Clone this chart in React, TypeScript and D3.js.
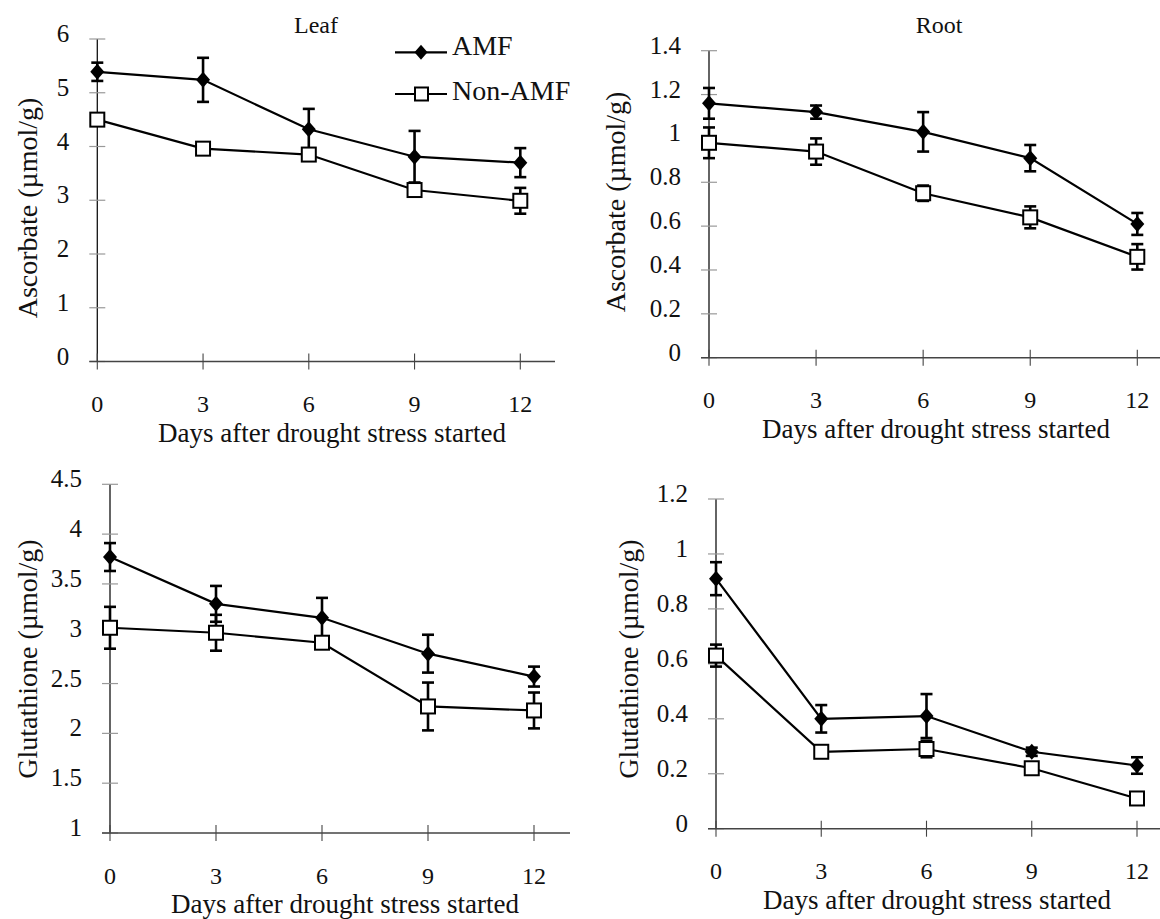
import React from "react";
import * as d3 from "d3";

// ---------- data ----------
const days = [0, 3, 6, 9, 12];
const seriesNames = ["AMF", "Non-AMF"];

const leafAscAMF = [5.39, 5.24, 4.32, 3.81, 3.7];
const leafAscAMFErr = [0.17, 0.41, 0.38, 0.48, 0.27];
const leafAscNon = [4.5, 3.96, 3.85, 3.19, 2.99];
const leafAscNonErr = [0.1, 0.05, 0.05, 0.05, 0.24];

const rootAscAMF = [1.16, 1.12, 1.03, 0.91, 0.61];
const rootAscAMFErr = [0.07, 0.03, 0.09, 0.06, 0.05];
const rootAscNon = [0.98, 0.94, 0.75, 0.64, 0.46];
const rootAscNonErr = [0.07, 0.06, 0.035, 0.05, 0.058];

const leafGshAMF = [3.77, 3.3, 3.16, 2.8, 2.57];
const leafGshAMFErr = [0.14, 0.18, 0.2, 0.19, 0.1];
const leafGshNon = [3.06, 3.01, 2.91, 2.27, 2.23];
const leafGshNonErr = [0.21, 0.18, 0.05, 0.24, 0.18];

const rootGshAMF = [0.91, 0.4, 0.41, 0.28, 0.23];
const rootGshAMFErr = [0.06, 0.05, 0.08, 0.015, 0.03];
const rootGshNon = [0.63, 0.28, 0.29, 0.22, 0.11];
const rootGshNonErr = [0.04, 0.01, 0.03, 0.01, 0.01];

const leafAscTicks = ["0", "1", "2", "3", "4", "5", "6"];
const rootAscTicks = ["0", "0.2", "0.4", "0.6", "0.8", "1", "1.2", "1.4"];
const leafGshTicks = ["1", "1.5", "2", "2.5", "3", "3.5", "4", "4.5"];
const rootGshTicks = ["0", "0.2", "0.4", "0.6", "0.8", "1", "1.2"];

const xTitle = "Days after drought stress started";
const ascTitle = "Ascorbate (µmol/g)";
const gshTitle = "Glutathione (µmol/g)";

// ---------- layout ----------
const FONT = '"Liberation Serif", "DejaVu Serif", serif';

type PanelCfg = {
  x0: number; x1: number; yb: number; yt: number;
  ticks: string[]; yTitle: string; yTitleX: number; yTitleY: number;
  xTitleX: number; axisEnd: number; title?: string; titleX?: number;
  amf: number[]; amfErr: number[]; non: number[]; nonErr: number[];
};

const panels: PanelCfg[] = [
  { x0: 97.3, x1: 520.3, yb: 361.5, yt: 39, ticks: leafAscTicks, yTitle: ascTitle,
    yTitleX: 27, yTitleY: 208, xTitleX: 332, axisEnd: 555, title: "Leaf", titleX: 316,
    amf: leafAscAMF, amfErr: leafAscAMFErr, non: leafAscNon, nonErr: leafAscNonErr },
  { x0: 709, x1: 1137.3, yb: 357.7, yt: 50.7, ticks: rootAscTicks, yTitle: ascTitle,
    yTitleX: 615, yTitleY: 202, xTitleX: 936, axisEnd: 1172, title: "Root", titleX: 939,
    amf: rootAscAMF, amfErr: rootAscAMFErr, non: rootAscNon, nonErr: rootAscNonErr },
  { x0: 110, x1: 534, yb: 833, yt: 484.3, ticks: leafGshTicks, yTitle: gshTitle,
    yTitleX: 27, yTitleY: 659, xTitleX: 345, axisEnd: 570,
    amf: leafGshAMF, amfErr: leafGshAMFErr, non: leafGshNon, nonErr: leafGshNonErr },
  { x0: 716, x1: 1137, yb: 828.7, yt: 499, ticks: rootGshTicks, yTitle: gshTitle,
    yTitleX: 628, yTitleY: 659, xTitleX: 937, axisEnd: 1172,
    amf: rootGshAMF, amfErr: rootGshAMFErr, non: rootGshNon, nonErr: rootGshNonErr },
];

const diamond = (w: number, h: number) =>
  `M0,${-h / 2}L${w / 2},0L0,${h / 2}L${-w / 2},0Z`;

const txt = (size: number) => ({ fontFamily: FONT, fontSize: size, fill: "#111" });

function Panel({ p }: { p: PanelCfg }) {
  const tv = p.ticks.map(Number);
  const x = d3.scaleLinear().domain([0, 12]).range([p.x0, p.x1]);
  const y = d3.scaleLinear().domain([tv[0], tv[tv.length - 1]]).range([p.yb, p.yt]);
  const line = d3.line<number>().x((_, i) => x(days[i])).y((v) => y(v));
  const err = (vals: number[], errs: number[], key: string) =>
    vals.map((v, i) => {
      const cx = x(days[i]);
      const top = y(v + errs[i]);
      const bot = y(v - errs[i]);
      return (
        <g key={key + i} stroke="#000" strokeWidth={2.6}>
          <line x1={cx} x2={cx} y1={top} y2={bot} />
          <line x1={cx - 6} x2={cx + 6} y1={top} y2={top} />
          <line x1={cx - 6} x2={cx + 6} y1={bot} y2={bot} />
        </g>
      );
    });
  return (
    <g>
      {/* y axis */}
      <line x1={p.x0} x2={p.x0} y1={p.yt} y2={p.yb} stroke="#111" strokeWidth={1.3} />
      {tv.map((t, i) => (
        <g key={"yt" + i}>
          <line x1={p.x0 - 8} x2={p.x0 + 8} y1={y(t)} y2={y(t)} stroke="#999" strokeWidth={1.2} />
          <text x={p.x0 - 28} y={y(t) + 3} textAnchor="end" style={txt(25)}>
            {p.ticks[i]}
          </text>
        </g>
      ))}
      {/* x axis */}
      <line x1={p.x0 - 8} x2={p.axisEnd} y1={p.yb} y2={p.yb} stroke="#444" strokeWidth={1.4} />
      {days.map((d) => (
        <g key={"xt" + d}>
          <line x1={x(d)} x2={x(d)} y1={p.yb - 8} y2={p.yb + 8} stroke="#444" strokeWidth={1.1} />
          <text x={x(d)} y={p.yb + 50.5} textAnchor="middle" style={txt(24)}>
            {d}
          </text>
        </g>
      ))}
      <text x={p.xTitleX} y={p.yb + 80} textAnchor="middle" style={txt(27)}>
        {xTitle}
      </text>
      <text
        transform={`translate(${p.yTitleX},${p.yTitleY}) rotate(-90)`}
        textAnchor="middle"
        dominantBaseline="central"
        style={txt(28)}
      >
        {p.yTitle}
      </text>
      {p.title && (
        <text x={p.titleX} y={33} textAnchor="middle" style={txt(24)}>
          {p.title}
        </text>
      )}
      {/* series */}
      <path d={line(p.amf) || ""} fill="none" stroke="#000" strokeWidth={2.2} />
      <path d={line(p.non) || ""} fill="none" stroke="#000" strokeWidth={2.2} />
      {err(p.amf, p.amfErr, "ea")}
      {err(p.non, p.nonErr, "en")}
      {p.amf.map((v, i) => (
        <path key={"ma" + i} d={diamond(14, 16)} transform={`translate(${x(days[i])},${y(v)})`} fill="#000" />
      ))}
      {p.non.map((v, i) => (
        <rect key={"mn" + i} x={x(days[i]) - 7} y={y(v) - 7} width={14} height={14}
          fill="#fff" stroke="#000" strokeWidth={2} />
      ))}
    </g>
  );
}

function Legend() {
  const rows = [52.3, 94];
  return (
    <g>
      {seriesNames.map((name, i) => (
        <g key={name}>
          <line x1={395} x2={447} y1={rows[i]} y2={rows[i]} stroke="#000" strokeWidth={2.2} />
          {i === 0 ? (
            <path d={diamond(13, 15)} transform={`translate(421,${rows[i]})`} fill="#000" />
          ) : (
            <rect x={415} y={rows[i] - 6.5} width={13} height={13} fill="#fff" stroke="#000" strokeWidth={2} />
          )}
          <text x={452} y={rows[i] + (i === 0 ? 3 : 6)} style={txt(28)}>
            {name}
          </text>
        </g>
      ))}
    </g>
  );
}

export default function App() {
  return (
    <svg
      width={1160}
      height={919}
      style={{ position: "absolute", left: 0, top: 0, background: "#fff" }}
    >
      <rect width={1160} height={919} fill="#fff" />
      {panels.map((p, i) => (
        <Panel key={i} p={p} />
      ))}
      <Legend />
    </svg>
  );
}
